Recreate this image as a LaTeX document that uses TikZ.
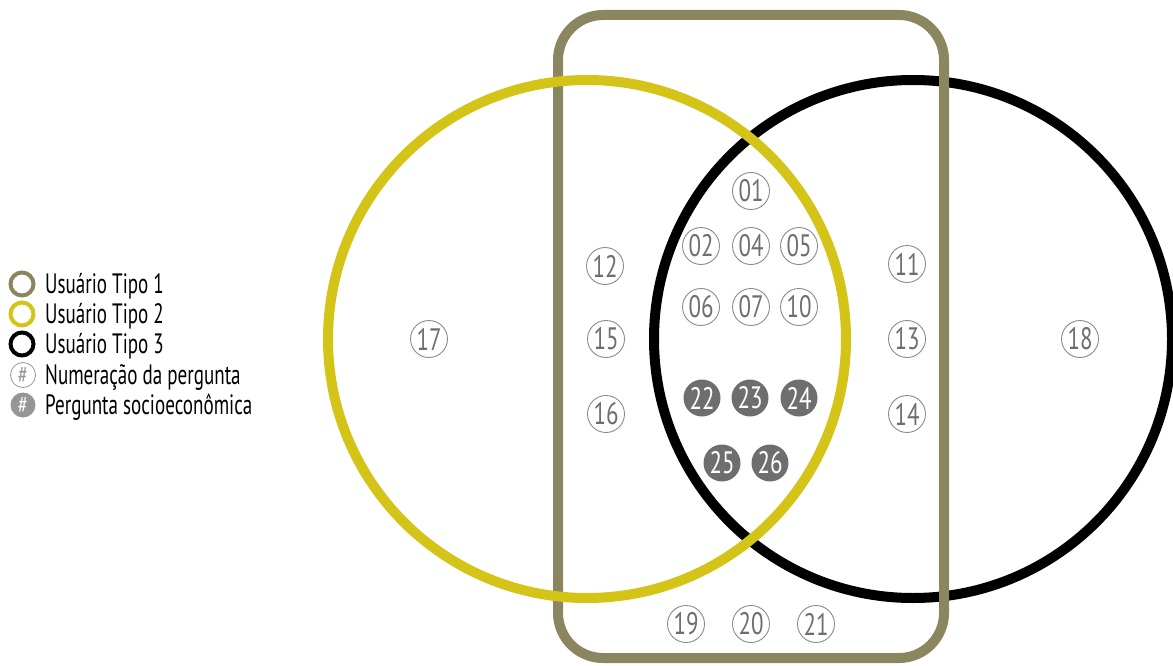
\documentclass[tikz,border=0pt]{standalone}
\usepackage{fontspec}
\newfontfamily\cond{PT Sans}[FakeStretch=0.74]
\newfontfamily\condl{PT Sans}[FakeStretch=0.68]
\definecolor{olive}{RGB}{140,134,96}
\definecolor{ylw}{RGB}{212,196,24}
\definecolor{numgray}{RGB}{110,110,110}
\definecolor{leggray}{RGB}{150,150,150}
\tikzset{
  qnum/.style={circle, draw=numgray!80, line width=0.9pt, minimum size=37pt, inner sep=0pt, text=numgray, font=\cond\fontsize{31}{31}\selectfont},
  snum/.style={circle, fill=numgray, minimum size=37pt, inner sep=0pt, text=white, font=\cond\fontsize{31}{31}\selectfont},
  legtxt/.style={anchor=base west, inner sep=0pt, font=\condl\fontsize{28}{28}\selectfont, text=black},
  legring/.style={circle, line width=4pt, minimum size=23pt, inner sep=0pt},
}
\begin{document}
\begin{tikzpicture}[x=1pt,y=-1pt]
\useasboundingbox (0,0) rectangle (1173,666);
% sets
\draw[line width=10pt, black] (913,339) circle[radius=259];
\draw[line width=10pt, olive, rounded corners=45pt] (558,15) rectangle (944,658);
\draw[line width=10pt, ylw] (587,339) circle[radius=259];
% question numbers
\node[qnum] (q01) at (751,191) {01};
\node[qnum] (q02) at (701,246) {02};
\node[qnum] (q04) at (751,246) {04};
\node[qnum] (q05) at (799,246) {05};
\node[qnum] (q06) at (701,307) {06};
\node[qnum] (q07) at (751,307) {07};
\node[qnum] (q10) at (799,307) {10};
\node[snum] (q22) at (702,398) {22};
\node[snum] (q23) at (750,398) {23};
\node[snum] (q24) at (799,398) {24};
\node[snum] (q25) at (722,463) {25};
\node[snum] (q26) at (770,463) {26};
\node[qnum] (q12) at (605,266) {12};
\node[qnum] (q15) at (606,339) {15};
\node[qnum] (q16) at (606,414) {16};
\node[qnum] (q11) at (907,264) {11};
\node[qnum] (q13) at (907,339) {13};
\node[qnum] (q14) at (907,414) {14};
\node[qnum] (q17) at (429,339) {17};
\node[qnum] (q18) at (1080,339) {18};
\node[qnum] (q19) at (686,624) {19};
\node[qnum] (q20) at (751,624) {20};
\node[qnum] (q21) at (816,624) {21};
% legend
\node[legring, draw=olive] (l1) at (22,284) {};
\node[legring, draw=ylw] (l2) at (22,314) {};
\node[legring, draw=black] (l3) at (22,344) {};
\node[circle, draw=leggray, line width=0.8pt, minimum size=25pt, inner sep=0pt, text=leggray, font=\cond\fontsize{25}{25}\selectfont] (l4) at (23,375) {\#};
\node[circle, fill=leggray, minimum size=25pt, inner sep=0pt, text=white, font=\cond\fontsize{25}{25}\selectfont] (l5) at (23,405) {\#};
\node[legtxt] (t1) at (45,293) {Usuário Tipo 1};
\node[legtxt] (t2) at (45,323) {Usuário Tipo 2};
\node[legtxt] (t3) at (45,353) {Usuário Tipo 3};
\node[legtxt] (t4) at (45,384) {Numeração da pergunta};
\node[legtxt] (t5) at (45,414) {Pergunta socioeconômica};
\end{tikzpicture}
\end{document}
